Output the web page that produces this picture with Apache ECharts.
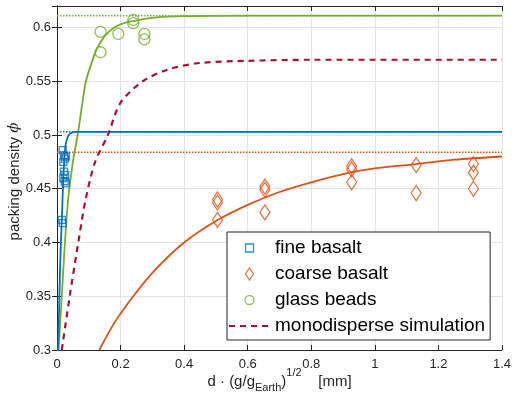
<!DOCTYPE html>
<html><head><meta charset="utf-8">
<script src="https://cdn.jsdelivr.net/npm/echarts@6/dist/echarts.min.js"></script>
<style>html,body{margin:0;padding:0;background:#fff}#c{width:520px;height:407px}</style>
</head><body><div id="c"></div>
<script>
// ---- data ----
const fineBasalt = [[0.018,0.486],[0.022,0.481],[0.028,0.480],[0.025,0.478],[0.020,0.475],[0.022,0.466],[0.026,0.463],[0.020,0.460],[0.024,0.457],[0.028,0.455],[0.015,0.421],[0.018,0.418]];
const coarseBasalt = [[0.505,0.440],[0.505,0.437],[0.505,0.421],[0.654,0.452],[0.654,0.449],[0.654,0.428],[0.927,0.471],[0.927,0.468],[0.927,0.456],[1.13,0.472],[1.13,0.446],[1.31,0.473],[1.31,0.465],[1.31,0.450]];
const glassBeads = [[0.137,0.596],[0.137,0.577],[0.193,0.594],[0.240,0.607],[0.240,0.604],[0.275,0.594],[0.275,0.589]];
const fineFit = [[0.002,0.29],[0.006,0.33],[0.010,0.38],[0.015,0.42],[0.020,0.46],[0.025,0.485],[0.030,0.495],[0.040,0.501],[0.060,0.503],[1.4,0.503]];
const coarseFit = [[0.133,0.30],[0.18,0.325],[0.24,0.35],[0.31,0.375],[0.40,0.40],[0.50,0.42],[0.60,0.435],[0.70,0.447],[0.80,0.456],[0.92,0.465],[1.00,0.469],[1.13,0.473],[1.25,0.477],[1.40,0.480]];
const glassFit = [[0.002,0.29],[0.005,0.30],[0.015,0.35],[0.025,0.40],[0.035,0.44],[0.05,0.475],[0.065,0.50],[0.08,0.53],[0.091,0.55],[0.11,0.568],[0.125,0.58],[0.15,0.592],[0.18,0.60],[0.21,0.604],[0.24,0.606],[0.30,0.609],[0.40,0.6105],[0.60,0.611],[1.40,0.611]];
const monoSim = [[0.015,0.30],[0.04,0.35],[0.067,0.40],[0.09,0.44],[0.12,0.475],[0.16,0.50],[0.20,0.53],[0.27,0.55],[0.35,0.561],[0.45,0.567],[0.60,0.569],[0.80,0.570],[1.40,0.570]];
const asymFine = 0.503, asymCoarse = 0.484, asymGlass = 0.611;
const xRange = [0, 1.4], yRange = [0.3, 0.62];
const legendNames = ['fine basalt','coarse basalt','glass beads','monodisperse simulation'];

const C = {blue:'#0072BD', orange:'#D95319', green:'#77AC30', red:'#A2142F', ax:'#262626', grid:'#e3e3e3'};
const FONT = "'Liberation Sans', Arial, Helvetica, sans-serif";

const chart = echarts.init(document.getElementById('c'), null, {renderer:'canvas'});
function asym(v){ return [[xRange[0], v],[xRange[1], v]]; }
function axisCommon(){ return {
  nameMoveOverlap:false,
  axisLine:{show:true, lineStyle:{color:C.ax, width:1}},
  axisTick:{show:true, inside:true, length:5, lineStyle:{color:C.ax, width:1}},
};}
const iconSquare = 'path://M0,0M14,14M3,3L11,3L11,11L3,11Z';
const iconDiamond = 'path://M0,0M14,14M7,1L11,7L7,13L3,7Z';
const iconCircle = 'path://M0,0M14,14M11.5,7A4.5,4.5,0,1,1,2.5,7A4.5,4.5,0,1,1,11.5,7Z';

const option = {
  animation:false,
  backgroundColor:'#fff',
  textStyle:{fontFamily:FONT},
  grid:{left:57, right:18, top:6, bottom:57, containLabel:false, outerBoundsMode:'none'},
  xAxis:[
    Object.assign(axisCommon(), {type:'value', min:xRange[0], max:xRange[1], interval:0.2, position:'bottom',
      axisLabel:{color:C.ax, fontSize:13, margin:8, fontFamily:FONT},
      splitLine:{show:true, lineStyle:{color:C.grid, width:1}},
      name:'{m|d · (g/g}{s|Earth}{m|)}{p|1/2}{m|    [mm]}', nameLocation:'middle', nameGap:17,
      nameTextStyle:{color:C.ax, fontFamily:FONT, rich:{
        m:{fontSize:15, lineHeight:30, verticalAlign:'middle', color:C.ax, fontFamily:FONT},
        s:{fontSize:11, lineHeight:11, verticalAlign:'bottom', padding:[0,0,4,0], color:C.ax, fontFamily:FONT},
        p:{fontSize:11, lineHeight:11, verticalAlign:'top', color:C.ax, fontFamily:FONT}
      }}}),
    Object.assign(axisCommon(), {type:'value', min:xRange[0], max:xRange[1], interval:0.2, position:'top',
      axisLabel:{show:false}, splitLine:{show:false}})
  ],
  yAxis:[
    Object.assign(axisCommon(), {type:'value', min:yRange[0], max:yRange[1], interval:0.05, position:'left',
      axisLabel:{color:C.ax, fontSize:13, margin:6, showMaxLabel:false, fontFamily:FONT},
      splitLine:{show:true, lineStyle:{color:C.grid, width:1}},
      name:'{m|packing density }{i|ϕ}', nameLocation:'middle', nameGap:35, nameRotate:90,
      nameTextStyle:{color:C.ax, padding:[0,7,0,0], rich:{
        m:{fontSize:15, color:C.ax, fontFamily:FONT},
        i:{fontSize:15, color:C.ax, fontStyle:'italic', fontFamily:"'DejaVu Serif', serif"}
      }}}),
    Object.assign(axisCommon(), {type:'value', min:yRange[0], max:yRange[1], interval:0.05, position:'right',
      axisLabel:{show:false}, splitLine:{show:false}})
  ],
  legend:{
    orient:'vertical', left:227, top:232,
    padding:[6,5,4,1], itemWidth:41, itemHeight:14, itemGap:6,
    borderColor:C.ax, borderWidth:1, backgroundColor:'#fff',
    textStyle:{fontSize:19, lineHeight:20, color:'#000', fontFamily:FONT},
    data:[
      {name:legendNames[0], icon:iconSquare, itemStyle:{color:'rgba(0,0,0,0)', borderColor:C.blue, borderWidth:1.3}},
      {name:legendNames[1], icon:iconDiamond, itemStyle:{color:'rgba(0,0,0,0)', borderColor:C.orange, borderWidth:1.3}},
      {name:legendNames[2], icon:iconCircle, itemStyle:{color:'rgba(0,0,0,0)', borderColor:C.green, borderWidth:1.3}},
      {name:legendNames[3], itemStyle:{opacity:0}}
    ]
  },
  series:[
    {type:'line', name:'asym-glass', data:asym(asymGlass), symbol:'none', silent:true, lineStyle:{color:C.green, width:1.5, type:[1.5,1.5]}, z:1},
    {type:'line', name:'asym-fine', data:asym(asymFine), symbol:'none', silent:true, lineStyle:{color:C.blue, width:1.5, type:[1.5,1.5]}, z:1},
    {type:'line', name:'asym-coarse', data:asym(asymCoarse), symbol:'none', silent:true, lineStyle:{color:C.orange, width:1.5, type:[1.5,1.5]}, z:1},
    {type:'line', name:'fit-glass', data:glassFit, symbol:'none', smooth:0.3, clip:true, lineStyle:{color:C.green, width:1.8}, z:2},
    {type:'line', name:'fit-fine', data:fineFit, symbol:'none', smooth:0.3, clip:true, lineStyle:{color:C.blue, width:1.8}, z:2},
    {type:'line', name:'fit-coarse', data:coarseFit, symbol:'none', smooth:0.3, clip:true, lineStyle:{color:C.orange, width:1.8}, z:2},
    {type:'line', name:legendNames[3], data:monoSim, symbol:'none', smooth:0.3, clip:true, itemStyle:{color:C.red}, lineStyle:{color:C.red, width:2.2, type:[6,5]}, z:2},
    {type:'scatter', name:legendNames[0], data:fineBasalt, symbol:'rect', symbolSize:7, itemStyle:{color:'rgba(0,0,0,0)', borderColor:C.blue, borderWidth:1.3}, z:3},
    {type:'scatter', name:legendNames[1], data:coarseBasalt, symbol:'diamond', symbolSize:[10,15], itemStyle:{color:'rgba(0,0,0,0)', borderColor:C.orange, borderWidth:1.3}, z:3},
    {type:'scatter', name:legendNames[2], data:glassBeads, symbol:'circle', symbolSize:11, itemStyle:{color:'rgba(0,0,0,0)', borderColor:C.green, borderWidth:1.3}, z:3}
  ]
};
chart.setOption(option);
</script></body></html>
